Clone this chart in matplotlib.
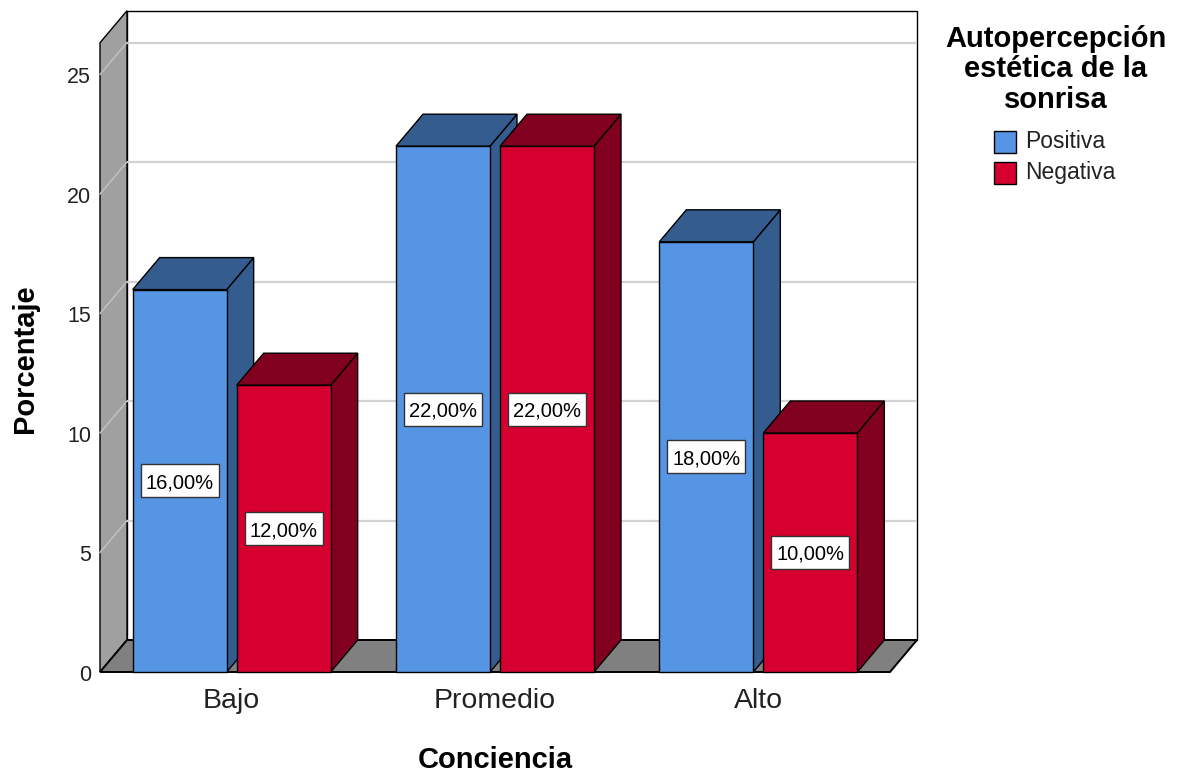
import matplotlib
matplotlib.use("Agg")
import matplotlib.pyplot as plt
from matplotlib.patches import Polygon, Rectangle

# ---- data ----
categories = ["Bajo", "Promedio", "Alto"]
series_names = ["Positiva", "Negativa"]
positiva = [16.0, 22.0, 18.0]
negativa = [12.0, 22.0, 10.0]
y_ticks = [0, 5, 10, 15, 20, 25]
x_title = "Conciencia"
y_title = "Porcentaje"
legend_title = ["Autopercepción", "estética de la", "sonrisa"]

front_colors = ["#5595e3", "#d5002f"]
shade_colors = ["#345c8e", "#82001f"]

plt.rcParams['font.family'] = ['Liberation Sans', 'DejaVu Sans']

W, H = 1180, 775
fig = plt.figure(figsize=(W / 100, H / 100), dpi=100)

# front plane of the 3D box, in pixels
X0, X1, Y0 = 100, 890, 672
PX_PER_UNIT = 23.9
YMAX = 26.33
ncat = len(categories)
ax = fig.add_axes([X0 / W, (H - Y0) / H, (X1 - X0) / W, YMAX * PX_PER_UNIT / H])
ax.set_xlim(0, ncat)
ax.set_ylim(0, YMAX)
ax.axis('off')

px_per_x = (X1 - X0) / ncat
DX = 27 / px_per_x          # depth offset (x, data units)
DY = 32 / PX_PER_UNIT       # depth offset (y, data units)
BAR_W = 94 / px_per_x
GAP = 10 / px_per_x
LABEL_W = 78 / px_per_x     # value label box size
LABEL_H = 33 / PX_PER_UNIT

def poly(pts, fc, z, ec="black", lw=1.0):
    ax.add_patch(Polygon(pts, closed=True, fc=fc, ec=ec, lw=lw,
                         joinstyle='miter', clip_on=False, zorder=z))

# back wall, left wall, floor
poly([(DX, DY), (ncat + DX, DY), (ncat + DX, YMAX + DY), (DX, YMAX + DY)], "white", 1)
poly([(0, 0), (DX, DY), (DX, YMAX + DY), (0, YMAX)], "#a0a0a0", 1)
poly([(0, 0), (ncat, 0), (ncat + DX, DY), (DX, DY)], "#808080", 1, lw=1.4)

# gridlines on the walls
for v in y_ticks[1:]:
    ax.plot([DX, ncat + DX], [v + DY, v + DY], color="#d2d2d2", lw=1.6,
            clip_on=False, zorder=1.5, solid_capstyle='butt')
    ax.plot([0, DX], [v, v + DY], color="#c4c4c4", lw=1.0,
            clip_on=False, zorder=1.5)

# bars, drawn left to right so nearer faces overlap
z = 3
series = [positiva, negativa]
for i, cat in enumerate(categories):
    c = i + 0.5
    for s, vals in enumerate(series):
        v = vals[i]
        x0 = c - GAP / 2 - BAR_W if s == 0 else c + GAP / 2
        x1 = x0 + BAR_W
        xc = (x0 + x1) / 2
        poly([(x1, 0), (x1 + DX, DY), (x1 + DX, v + DY), (x1, v)], shade_colors[s], z)
        poly([(x0, v), (x0 + DX, v + DY), (x1 + DX, v + DY), (x1, v)], shade_colors[s], z)
        poly([(x0, 0), (x1, 0), (x1, v), (x0, v)], front_colors[s], z)
        ax.add_patch(Rectangle((xc - LABEL_W / 2, v / 2 - LABEL_H / 2), LABEL_W, LABEL_H,
                               fc="white", ec="#333333", lw=1.0, zorder=z + 0.4))
        label = f"{v:.2f}".replace(".", ",") + "%"
        ax.text(xc, v / 2, label, ha="center", va="center_baseline",
                fontsize=14.5, color="black", zorder=z + 0.5)
        z += 1

# category labels
for i, cat in enumerate(categories):
    ax.annotate(cat, xy=(i + 0.5, 0), xytext=(0, -25.9), textcoords="offset points",
                ha="center", va="baseline", fontsize=20.5, color="#222222",
                annotation_clip=False)

# y tick labels
for v in y_ticks:
    ax.annotate(str(v), xy=(0, v), xytext=(-6.5, -2.2), textcoords="offset points",
                ha="right", va="center", fontsize=15.5, color="#222222",
                annotation_clip=False)

# axis titles
fig.text(25 / W, 1 - 359 / H, y_title, rotation=90, ha="center", va="center",
         fontsize=21, fontweight="bold")
fig.text(495 / W, 1 - 768 / H, x_title, ha="center", va="baseline",
         fontsize=21, fontweight="bold")

# legend
for k, line in enumerate(legend_title):
    fig.text(1056 / W, 1 - (47 + 30.3 * k) / H, line, ha="center", va="baseline",
             fontsize=21, fontweight="bold")
for s, name in enumerate(series_names):
    top = 131 + s * 31
    fig.add_artist(Rectangle((994 / W, 1 - (top + 22) / H), 22 / W, 22 / H,
                             fc=front_colors[s], ec="black", lw=1.0,
                             transform=fig.transFigure))
    fig.text(1025 / W, 1 - (top + 11) / H, name, ha="left", va="center",
             fontsize=16.5, color="#222222")

fig.savefig("out.png", dpi=100)
